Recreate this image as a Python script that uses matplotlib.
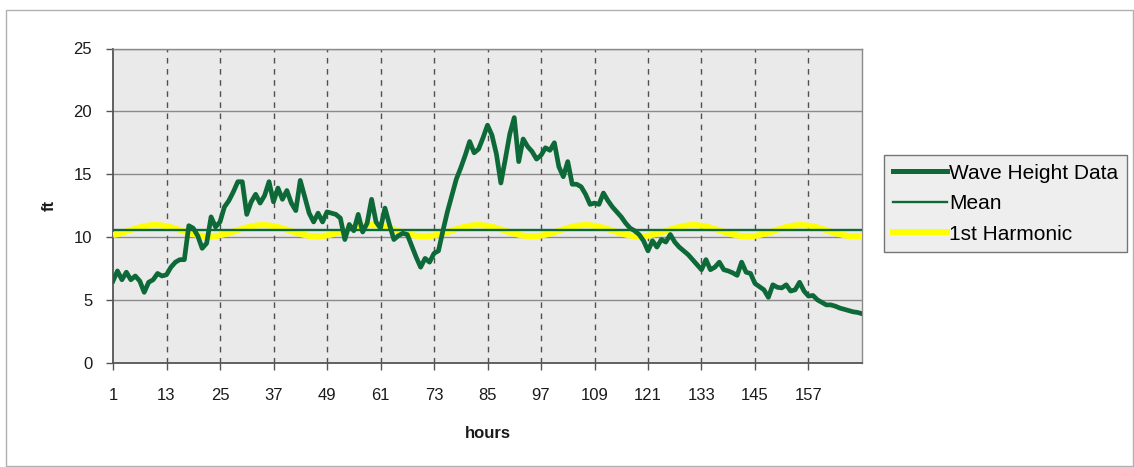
import matplotlib
matplotlib.use("Agg")
import matplotlib.pyplot as plt
from matplotlib.patches import Rectangle
from matplotlib.lines import Line2D

plt.rcParams['font.family'] = ['Liberation Sans', 'DejaVu Sans']

hours = list(range(1, 170))
tick_hours = [1, 13, 25, 37, 49, 61, 73, 85, 97, 109, 121, 133, 145, 157]
y_ticks = [0, 5, 10, 15, 20, 25]

wave_height = [
    6.5, 7.3, 6.6, 7.2, 6.6, 6.9, 6.5, 5.6, 6.4, 6.6,
    7.1, 6.9, 7.0, 7.6, 8.0, 8.2, 8.2, 10.9, 10.7, 10.1,
    9.1, 9.5, 11.6, 10.8, 11.2, 12.4, 12.9, 13.6, 14.4, 14.4,
    11.8, 12.8, 13.4, 12.7, 13.3, 14.4, 12.8, 13.9, 13.0, 13.7,
    12.7, 12.1, 14.5, 13.2, 11.9, 11.2, 11.9, 11.2, 12.0, 11.9,
    11.8, 11.5, 9.8, 11.0, 10.5, 11.8, 10.4, 11.1, 13.0, 11.2,
    10.7, 12.3, 11.0, 9.8, 10.1, 10.3, 10.2, 9.3, 8.4, 7.6,
    8.3, 8.0, 8.7, 8.9, 10.5, 12.0, 13.3, 14.6, 15.5, 16.5,
    17.6, 16.7, 17.0, 17.9, 18.9, 18.1, 16.6, 14.3, 16.2, 18.2,
    19.5, 16.0, 17.8, 17.2, 16.8, 16.2, 16.5, 17.1, 16.9, 17.5,
    15.6, 14.8, 16.0, 14.2, 14.2, 14.0, 13.4, 12.6, 12.7, 12.6,
    13.5, 12.9, 12.4, 12.0, 11.6, 11.1, 10.7, 10.5, 10.2, 9.7,
    8.9, 9.7, 9.2, 9.8, 9.6, 10.2, 9.6, 9.2, 8.9, 8.6,
    8.2, 7.8, 7.4, 8.2, 7.4, 7.6, 8.0, 7.4, 7.3, 7.15,
    6.95, 8.0, 7.2, 7.1, 6.3, 6.05, 5.8, 5.2, 6.2, 6.0,
    5.95, 6.2, 5.7, 5.8, 6.4, 5.7, 5.3, 5.35, 5.0, 4.8,
    4.6, 4.6, 4.5, 4.35, 4.25, 4.15, 4.05, 4.0, 3.9,
]

mean_level = [10.52] * len(hours)

first_harmonic = [
    10.15,
    10.23, 10.33, 10.45, 10.56, 10.68, 10.78, 10.86, 10.92, 10.95, 10.95,
    10.92, 10.86, 10.78, 10.68, 10.56, 10.45, 10.33, 10.23, 10.15, 10.09,
    10.06, 10.05, 10.08, 10.14, 10.22, 10.32, 10.43, 10.55, 10.66, 10.76,
    10.85, 10.91, 10.94, 10.95, 10.92, 10.87, 10.79, 10.69, 10.58, 10.46,
    10.35, 10.24, 10.16, 10.09, 10.06, 10.05, 10.07, 10.13, 10.20, 10.30,
    10.41, 10.53, 10.64, 10.75, 10.84, 10.90, 10.94, 10.95, 10.93, 10.88,
    10.80, 10.71, 10.60, 10.48, 10.36, 10.26, 10.17, 10.10, 10.06, 10.05,
    10.07, 10.12, 10.19, 10.29, 10.40, 10.51, 10.63, 10.73, 10.83, 10.89,
    10.94, 10.95, 10.93, 10.89, 10.81, 10.72, 10.61, 10.50, 10.38, 10.27,
    10.18, 10.11, 10.07, 10.05, 10.07, 10.11, 10.18, 10.27, 10.38, 10.50,
    10.61, 10.72, 10.81, 10.89, 10.93, 10.95, 10.94, 10.89, 10.83, 10.73,
    10.63, 10.51, 10.40, 10.29, 10.19, 10.12, 10.07, 10.05, 10.06, 10.10,
    10.17, 10.26, 10.36, 10.48, 10.60, 10.71, 10.80, 10.88, 10.93, 10.95,
    10.94, 10.90, 10.84, 10.75, 10.64, 10.53, 10.41, 10.30, 10.20, 10.13,
    10.07, 10.05, 10.06, 10.09, 10.16, 10.25, 10.35, 10.46, 10.58, 10.69,
    10.79, 10.87, 10.92, 10.95, 10.94, 10.91, 10.85, 10.76, 10.66, 10.54,
    10.43, 10.32, 10.22, 10.14, 10.08, 10.05, 10.06, 10.09,
]

series_labels = ["Wave Height Data", "Mean", "1st Harmonic"]

W, H = 1134, 467
fig = plt.figure(figsize=(W / 100, H / 100), dpi=100)
fig.patch.set_facecolor('white')

# outer chart frame
fig.patches.append(Rectangle((6 / W, 1 - 466 / H), 1127 / W, 456 / H,
                             transform=fig.transFigure, fill=False,
                             edgecolor='#b0b0b0', linewidth=1.0))

left, right, top, bottom = 113, 862, 48.5, 362.7
ax = fig.add_axes([left / W, 1 - bottom / H, (right - left) / W, (bottom - top) / H])
ax.set_facecolor('#eaeaea')

green = '#0d6a38'
ax.plot(hours, first_harmonic, color='#ffff00', lw=4.3, zorder=3, solid_capstyle='butt')
ax.plot(hours, mean_level, color=green, lw=1.7, zorder=4)
ax.plot(hours, wave_height, color=green, lw=3.4, zorder=5)

ax.set_xlim(1, 169)
ax.set_ylim(0, 25)

# gridlines
for yv in y_ticks[1:]:
    ax.axhline(yv, color='#8a8a8a', lw=1.0, zorder=1)
for xv in tick_hours[1:]:
    ax.axvline(xv, color='#505050', lw=1.0, ls=(0, (4, 4)), zorder=1)

ax.set_xticks(tick_hours)
ax.set_xticklabels([str(h) for h in tick_hours])
ax.set_yticks(y_ticks)
ax.tick_params(axis='both', direction='out', length=5, width=1, color='#555555',
               labelsize=12, labelcolor='#1a1a1a')
ax.tick_params(axis='x', pad=13)
ax.tick_params(axis='y', pad=10)

for side in ['left', 'bottom']:
    ax.spines[side].set_color('#555555')
    ax.spines[side].set_linewidth(1.3)
for side in ['top', 'right']:
    ax.spines[side].set_color('#8a8a8a')
    ax.spines[side].set_linewidth(1.0)

ax.set_xlabel('hours', fontsize=12, fontweight='bold', labelpad=17, color='#1a1a1a')
ax.set_ylabel('ft', fontsize=12, fontweight='bold', labelpad=12, color='#1a1a1a')

handles = [
    Line2D([], [], color=green, lw=3.6),
    Line2D([], [], color=green, lw=1.7),
    Line2D([], [], color='#ffff00', lw=4.3),
]
leg = fig.legend(handles, series_labels, loc='upper left',
                 bbox_to_anchor=(884 / W, 1 - 155 / H), fontsize=15,
                 frameon=True, fancybox=False, handlelength=2.6, handletextpad=0.1,
                 borderpad=0.42, labelspacing=0.55, borderaxespad=0)
leg.get_frame().set_edgecolor('#555555')
leg.get_frame().set_facecolor('#eaeaea')
leg.get_frame().set_linewidth(1.0)

fig.savefig('out.png', dpi=100)
